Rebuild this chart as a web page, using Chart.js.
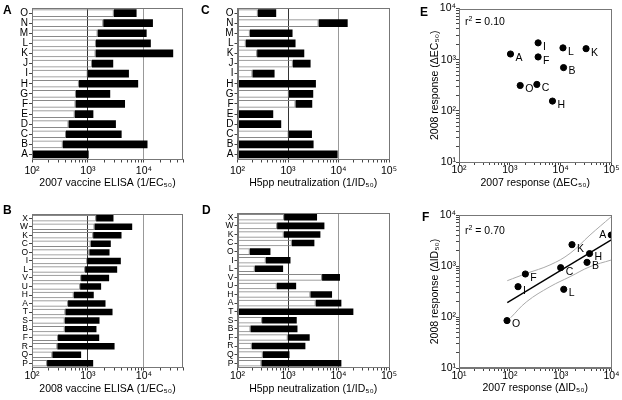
<!DOCTYPE html>
<html>
<head>
<meta charset="utf-8">
<script src="https://cdn.jsdelivr.net/npm/chart.js@4.4.1/dist/chart.umd.min.js"></script>
<style>
  html, body { margin: 0; padding: 0; background: #fff; }
  #fig { position: relative; width: 622px; height: 400px; overflow: hidden; font-family: 'Liberation Sans', Arial, sans-serif; }
  #fig canvas { position: absolute; }
  .tag { position: absolute; font-weight: bold; font-size: 12px; line-height: 12px; }
  .rsq { position: absolute; font-size: 10.5px; line-height: 12px; }
  .rsq sup { font-size: 7px; vertical-align: 4px; }
</style>
</head>
<body>
<div id="fig">
  <canvas id="panelA" width="200" height="196" style="left:0;top:0"></canvas>
  <canvas id="panelC" width="200" height="196" style="left:205px;top:0"></canvas>
  <canvas id="panelE" width="217" height="196" style="left:405px;top:0"></canvas>
  <canvas id="panelB" width="200" height="194" style="left:0;top:206px"></canvas>
  <canvas id="panelD" width="200" height="194" style="left:205px;top:206px"></canvas>
  <canvas id="panelF" width="217" height="194" style="left:405px;top:206px"></canvas>
  <div class="tag" style="left:3px;top:4px">A</div>
  <div class="tag" style="left:201px;top:4px">C</div>
  <div class="tag" style="left:420px;top:6px">E</div>
  <div class="tag" style="left:3px;top:204px">B</div>
  <div class="tag" style="left:202px;top:204px">D</div>
  <div class="tag" style="left:422px;top:211px">F</div>
  <div class="rsq" style="left:465px;top:13px">r<sup>2</sup> = 0.10</div>
  <div class="rsq" style="left:465px;top:222px">r<sup>2</sup> = 0.70</div>
</div>
<script>
Chart.defaults.font.family = "'Liberation Sans', Arial, 'DejaVu Sans', sans-serif";
Chart.defaults.color = '#000';
Chart.defaults.animation = false;

// tick labels for the log axes
const decadeValues = [10, 100, 1000, 10000, 100000];
const decadeLabels = ['10¹', '10²', '10³', '10⁴', '10⁵'];

// A: 2007 vaccine ELISA (white = before, black = after)
const catsA = ['O', 'N', 'M', 'L', 'K', 'J', 'I', 'H', 'G', 'F', 'E', 'D', 'C', 'B', 'A'];
const elisa07Pre  = [2900, 1880, 1490, 1390, 1370, 1180, 990, 690, 610, 600, 580, 450, 405, 355, 100];
const elisa07Post = [7400, 14500, 11200, 13300, 33400, 2830, 5400, 7900, 2500, 4600, 1250, 3160, 4000, 11600, 1030];

// C: 2007 H5pp neutralization
const neut07Pre  = [253, 4040, 176, 146, 245, 1250, 198, 100, 1040, 1410, 100, 100, 1030, 100, 100];
const neut07Post = [584, 15200, 1230, 1410, 2100, 2800, 542, 3570, 3160, 3020, 510, 734, 2980, 3210, 9600];

// B: 2008 vaccine ELISA
const catsB = ['X', 'W', 'K', 'C', 'O', 'I', 'L', 'V', 'U', 'H', 'A', 'T', 'S', 'B', 'F', 'R', 'Q', 'P'];
const elisa08Pre  = [1400, 1310, 1240, 1120, 1060, 970, 890, 755, 725, 557, 441, 395, 385, 385, 292, 284, 231, 186];
const elisa08Post = [2860, 6180, 3980, 2560, 2430, 3870, 3330, 2390, 1720, 1270, 2060, 2750, 1610, 1420, 1590, 2990, 755, 1240];

// D: 2008 H5pp neutralization
const neut08Pre  = [837, 609, 824, 1190, 175, 363, 220, 4730, 600, 2780, 3540, 100, 307, 181, 989, 192, 317, 298];
const neut08Post = [3760, 5260, 4380, 3330, 449, 1120, 800, 10700, 1450, 7450, 11400, 19700, 1490, 1540, 2690, 2210, 1070, 11400];

// E: ELISA response 2007 vs 2008
const namesE = ['A', 'I', 'F', 'L', 'K', 'B', 'O', 'C', 'H'];
const elisaResp07 = [1030, 3600, 3600, 11100, 31600, 11400, 1600, 3400, 6900];
const elisaResp08 = [1290, 2130, 1130, 1700, 1640, 700, 313, 328, 155];

// F: neutralization response 2007 vs 2008, fit and confidence band
const namesF = ['A', 'K', 'H', 'B', 'C', 'F', 'I', 'L', 'O'];
const neutResp07 = [9900, 1670, 3700, 3300, 1000, 202, 145, 1150, 88];
const neutResp08 = [4050, 2620, 1750, 1180, 927, 697, 393, 349, 85];
const fitX = [89, 9900];
const fitY = [191, 3240];
const upperX = [89, 215, 617, 1530, 3780, 9900];
const upperY = [515, 718, 1050, 1770, 4050, 9270];
const lowerX = [104, 215, 617, 1530, 3780, 9900];
const lowerY = [97, 200, 393, 617, 970, 1310];

function logTicks(scale) {
    const ticks = [];
    decadeValues.forEach(d => {
        for (let m = 1; m <= 9; m++) {
            const v = d * m;
            if (v >= scale.min - 1e-6 && v <= scale.max + 1e-6) ticks.push({ value: v, major: m === 1 });
        }
    });
    scale.ticks = ticks;
}

function decadeLabel(value) {
    const i = decadeValues.indexOf(value);
    return i < 0 ? '' : decadeLabels[i];
}

function toXY(xs, ys) {
    return xs.map((x, i) => ({ x: x, y: ys[i] }));
}

// grey box round the plot area
const framePlugin = {
    id: 'frame',
    afterDatasetsDraw(chart) {
        const a = chart.chartArea;
        const ctx = chart.ctx;
        ctx.save();
        ctx.strokeStyle = '#777';
        ctx.lineWidth = 1;
        ctx.strokeRect(Math.round(a.left) + 0.5, Math.round(a.top) + 0.5,
            Math.round(a.right - a.left) - 1, Math.round(a.bottom - a.top) - 1);
        ctx.restore();
    }
};

// letters next to the scatter points
function pointTags(names) {
    return {
        id: 'pointTags',
        afterDatasetsDraw(chart) {
            const ctx = chart.ctx;
            const area = chart.chartArea;
            ctx.save();
            ctx.font = "10.5px 'Liberation Sans', Arial, sans-serif";
            ctx.fillStyle = '#000';
            ctx.textBaseline = 'middle';
            chart.getDatasetMeta(0).data.forEach((pt, i) => {
                if (pt.x + 14 > area.right) {
                    ctx.textAlign = 'right';
                    ctx.fillText(names[i], pt.x - 5, pt.y);
                } else {
                    ctx.textAlign = 'left';
                    ctx.fillText(names[i], pt.x + 5, pt.y + 4);
                }
            });
            ctx.restore();
        }
    };
}

function barPanel(id, cats, pre, post, xMax, title, lay) {
    const xMin = 100;
    new Chart(document.getElementById(id), {
        type: 'bar',
        data: {
            labels: cats,
            datasets: [{
                data: pre.map((v, i) => [v, post[i]]),
                backgroundColor: '#000',
                borderWidth: 0,
                grouped: false,
                barPercentage: 0.76,
                categoryPercentage: 1
            }, {
                data: pre.map(v => v > xMin ? [xMin, v] : null),
                backgroundColor: 'rgba(255,255,255,0)',
                borderColor: '#888',
                borderWidth: 1,
                grouped: false,
                barPercentage: 0.76,
                categoryPercentage: 1
            }]
        },
        options: {
            indexAxis: 'y',
            responsive: false,
            layout: { padding: lay.pad },
            plugins: { legend: { display: false }, tooltip: { enabled: false } },
            scales: {
                x: {
                    type: 'logarithmic',
                    min: xMin,
                    max: xMax,
                    afterBuildTicks: logTicks,
                    afterFit: s => { s.height = lay.xh; },
                    ticks: { callback: decadeLabel, autoSkip: false, maxRotation: 0, padding: lay.tickPad, font: { size: 10.5 } },
                    grid: {
                        color: c => c.tick && c.tick.value === 1000 ? '#333' : (c.tick && c.tick.value === 10000 ? '#999' : 'rgba(0,0,0,0)'),
                        tickColor: '#444',
                        tickLength: 3
                    },
                    border: { color: '#777' },
                    title: { display: true, text: title, font: { size: 10.5 }, padding: { top: 0, bottom: lay.titlePad } }
                },
                y: {
                    afterFit: s => { s.width = lay.yw; },
                    ticks: { font: { size: lay.catFont }, padding: 1, autoSkip: false },
                    grid: { offset: false, drawOnChartArea: false, tickLength: 3, tickColor: '#444' },
                    border: { color: '#777' }
                }
            }
        },
        plugins: [framePlugin]
    });
}

function scatterPanel(id, names, xs, ys, xMin, xMax, xTitle, yTitle, lines, lay) {
    const datasets = [{
        data: toXY(xs, ys),
        backgroundColor: '#000',
        borderColor: '#000',
        pointRadius: 3.1,
        showLine: false
    }].concat(lines);
    new Chart(document.getElementById(id), {
        type: 'scatter',
        data: { datasets: datasets },
        options: {
            responsive: false,
            layout: { padding: lay.pad },
            plugins: { legend: { display: false }, tooltip: { enabled: false } },
            scales: {
                x: {
                    type: 'logarithmic',
                    min: xMin,
                    max: xMax,
                    afterBuildTicks: logTicks,
                    afterFit: s => { s.height = lay.xh; },
                    ticks: { callback: decadeLabel, autoSkip: false, maxRotation: 0, padding: lay.tickPad, font: { size: 10.5 } },
                    grid: { drawOnChartArea: false, tickLength: 3, tickColor: '#444' },
                    border: { color: '#777' },
                    title: { display: true, text: xTitle, font: { size: 10.5 }, padding: { top: 0, bottom: lay.titlePad } }
                },
                y: {
                    type: 'logarithmic',
                    min: 10,
                    max: 10000,
                    afterBuildTicks: logTicks,
                    afterFit: s => { s.width = lay.yw; },
                    ticks: { callback: decadeLabel, autoSkip: false, padding: 0, font: { size: 10.5 } },
                    grid: { drawOnChartArea: false, tickLength: 3, tickColor: '#444' },
                    border: { color: '#777' },
                    title: { display: true, text: yTitle, font: { size: 10.5 }, padding: { top: 3.7, bottom: 0 } }
                }
            }
        },
        plugins: [framePlugin, pointTags(names)]
    });
}

barPanel('panelA', catsA, elisa07Pre, elisa07Post, 50000, '2007 vaccine ELISA (1/EC₅₀)',
    { pad: { left: 4, right: 17, top: 8, bottom: 2 }, yw: 28, xh: 34.5, tickPad: 2, titlePad: 4.7, catFont: 10 });
barPanel('panelC', catsA, neut07Pre, neut07Post, 100000, 'H5pp neutralization (1/ID₅₀)',
    { pad: { left: 4, right: 16, top: 8, bottom: 2 }, yw: 28.5, xh: 34.5, tickPad: 2, titlePad: 4.2, catFont: 10 });
barPanel('panelB', catsB, elisa08Pre, elisa08Post, 50000, '2008 vaccine ELISA (1/EC₅₀)',
    { pad: { left: 4, right: 17, top: 8, bottom: 0 }, yw: 28, xh: 32.5, tickPad: -1, titlePad: 4.7, catFont: 8.5 });
barPanel('panelD', catsB, neut08Pre, neut08Post, 100000, 'H5pp neutralization (1/ID₅₀)',
    { pad: { left: 4, right: 16, top: 7, bottom: 0 }, yw: 28.5, xh: 32.5, tickPad: -1, titlePad: 4.7, catFont: 8.5 });

scatterPanel('panelE', namesE, elisaResp07, elisaResp08, 100, 100000,
    '2007 response (ΔEC₅₀)', '2008 response (ΔEC₅₀)', [],
    { pad: { left: 20, right: 10.5, top: 8.5, bottom: 2 }, yw: 34, xh: 32, tickPad: -1, titlePad: 4.7 });

scatterPanel('panelF', namesF, neutResp07, neutResp08, 10, 10000,
    '2007 response (ΔID₅₀)', '2008 response (ΔID₅₀)', [{
        data: toXY(fitX, fitY), showLine: true, borderColor: '#000', borderWidth: 1.4, pointRadius: 0
    }, {
        data: toXY(upperX, upperY), showLine: true, borderColor: '#aaa', borderWidth: 1, pointRadius: 0, tension: 0.4
    }, {
        data: toXY(lowerX, lowerY), showLine: true, borderColor: '#aaa', borderWidth: 1, pointRadius: 0, tension: 0.4
    }],
    { pad: { left: 20, right: 10.5, top: 9, bottom: 0 }, yw: 34, xh: 32, tickPad: -1, titlePad: 5.7 });
</script>
</body>
</html>
